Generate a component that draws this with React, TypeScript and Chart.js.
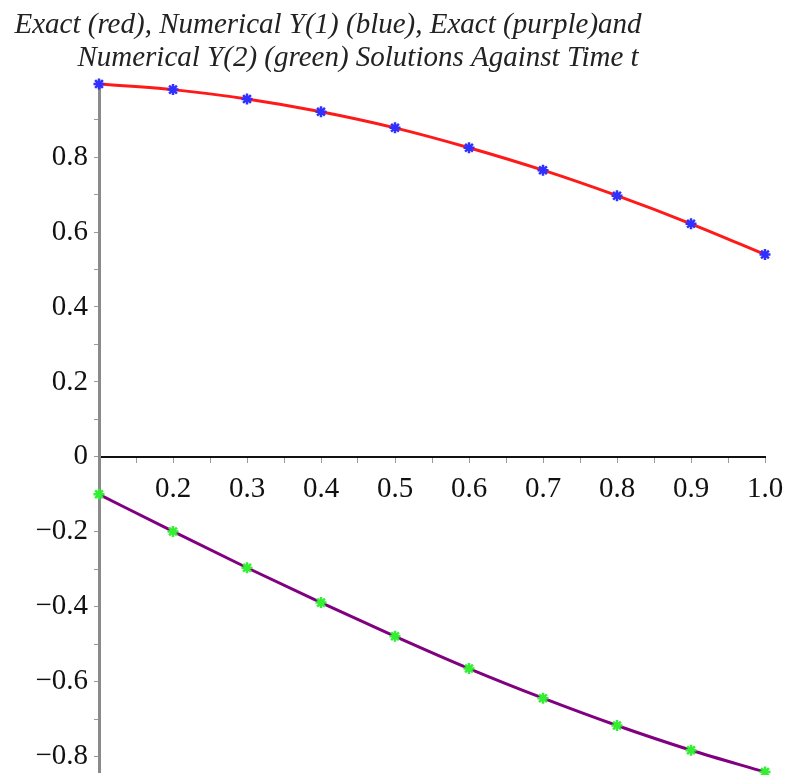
import React, { useEffect, useRef } from 'react';
import { Chart, registerables } from 'chart.js';

Chart.register(...registerables);

// ---- data ----
const tValues = [0.1, 0.2, 0.3, 0.4, 0.5, 0.6, 0.7, 0.8, 0.9, 1.0];
const exactY1 = [0.995, 0.98, 0.955, 0.921, 0.878, 0.825, 0.765, 0.697, 0.622, 0.54];
const numericalY1 = [0.995, 0.98, 0.955, 0.921, 0.878, 0.825, 0.765, 0.697, 0.622, 0.54];
const exactY2 = [-0.1, -0.199, -0.296, -0.389, -0.479, -0.565, -0.644, -0.717, -0.783, -0.841];
const numericalY2 = [-0.1, -0.199, -0.296, -0.389, -0.479, -0.565, -0.644, -0.717, -0.783, -0.841];

const xMajorTicks = [0.2, 0.3, 0.4, 0.5, 0.6, 0.7, 0.8, 0.9, 1.0];
const xMajorLabels = ['0.2', '0.3', '0.4', '0.5', '0.6', '0.7', '0.8', '0.9', '1.0'];
const xMinorTicks = [0.15, 0.25, 0.35, 0.45, 0.55, 0.65, 0.75, 0.85, 0.95];

const yMajorTicks = [-0.8, -0.6, -0.4, -0.2, 0, 0.2, 0.4, 0.6, 0.8];
const yMajorLabels = ['\u22120.8', '\u22120.6', '\u22120.4', '\u22120.2', '0', '0.2', '0.4', '0.6', '0.8'];
const yMinorTicks = [-0.7, -0.5, -0.3, -0.1, 0.1, 0.3, 0.5, 0.7, 0.9];

const titleLines = [
  'Exact (red), Numerical Y(1) (blue), Exact (purple)and',
  'Numerical Y(2) (green) Solutions Against Time t',
];

const X_MIN = 0.1;
const X_MAX = 1.0;
const Y_MIN = -0.841;
const Y_MAX = 0.995;

const PAD_TOP = 84;
const PAD_BOTTOM = 3;

const serif = '"Liberation Serif", "Times New Roman", serif';

function labelFor(value: number, ticks: number[], labels: string[]): string {
  for (let i = 0; i < ticks.length; i++) {
    if (Math.abs(ticks[i] - value) < 1e-6) return labels[i];
  }
  return '';
}

const pairs = (ys: number[]) => tValues.map((t, i) => ({ x: t, y: ys[i] }));

const zeroPadding = (scale: any) => {
  scale.paddingLeft = 0;
  scale.paddingRight = 0;
  scale.paddingTop = 0;
  scale.paddingBottom = 0;
};

// keep the vertical extent of the plot at the reference's position
const plotExtentPlugin = {
  id: 'plotExtent',
  afterLayout(chart: any) {
    const y = chart.scales.y;
    const top = PAD_TOP;
    const bottom = chart.height - PAD_BOTTOM;
    y.top = top;
    y.bottom = bottom;
    y.height = bottom - top;
    y.configure();
    chart.chartArea.top = top;
    chart.chartArea.bottom = bottom;
    chart.chartArea.height = bottom - top;
  },
};

const titlePlugin = {
  id: 'mapleTitle',
  afterDraw(chart: any) {
    const ctx = chart.ctx;
    ctx.save();
    ctx.font = 'italic 29px ' + serif;
    ctx.fillStyle = '#222222';
    ctx.textAlign = 'center';
    ctx.textBaseline = 'alphabetic';
    ctx.fillText(titleLines[0], 328, 33);
    ctx.fillText(titleLines[1], 358, 66);
    ctx.restore();
  },
};

export default function App() {
  const canvasRef = useRef<HTMLCanvasElement | null>(null);

  useEffect(() => {
    if (!canvasRef.current) return;
    const chart = new Chart(canvasRef.current, {
      type: 'line',
      data: {
        datasets: [
          {
            label: 'Numerical Y(1)',
            data: pairs(numericalY1),
            showLine: false,
            pointStyle: 'star',
            pointRadius: 5.5,
            pointBorderWidth: 2.5,
            pointBorderColor: '#3030ff',
            pointBackgroundColor: '#3030ff',
            borderColor: '#3030ff',
            order: 0,
            clip: false,
          },
          {
            label: 'Numerical Y(2)',
            data: pairs(numericalY2),
            showLine: false,
            pointStyle: 'star',
            pointRadius: 5.5,
            pointBorderWidth: 2.5,
            pointBorderColor: '#33ee33',
            pointBackgroundColor: '#33ee33',
            borderColor: '#33ee33',
            order: 0,
            clip: false,
          },
          {
            label: 'Exact Y(1)',
            data: pairs(exactY1),
            borderColor: '#ff1a1a',
            borderWidth: 3,
            pointRadius: 0,
            cubicInterpolationMode: 'monotone',
            order: 1,
            clip: false,
          },
          {
            label: 'Exact Y(2)',
            data: pairs(exactY2),
            borderColor: '#800080',
            borderWidth: 3,
            pointRadius: 0,
            cubicInterpolationMode: 'monotone',
            order: 1,
            clip: false,
          },
        ],
      },
      options: {
        animation: false,
        responsive: false,
        maintainAspectRatio: false,
        events: [],
        layout: { padding: { top: PAD_TOP, right: 21, bottom: PAD_BOTTOM, left: 0 } },
        plugins: {
          legend: { display: false },
          title: { display: false },
          tooltip: { enabled: false },
        },
        scales: {
          x: {
            type: 'linear',
            min: X_MIN,
            max: X_MAX,
            position: { y: 0 } as any,
            afterBuildTicks: (scale: any) => {
              scale.ticks = [...xMinorTicks, ...xMajorTicks]
                .sort((a, b) => a - b)
                .map((v) => ({ value: v }));
            },
            afterFit: (scale: any) => {
              zeroPadding(scale);
              scale.height = 0;
            },
            ticks: {
              autoSkip: false,
              maxRotation: 0,
              padding: 10,
              color: '#111111',
              font: { family: serif, size: 29 },
              callback: (value: any) => labelFor(Number(value), xMajorTicks, xMajorLabels),
            },
            grid: {
              drawOnChartArea: false,
              drawTicks: true,
              tickLength: 5,
              tickColor: '#9a9a9a',
              tickWidth: 1,
            },
            border: { display: true, color: '#111111', width: 2 },
          },
          y: {
            type: 'linear',
            min: Y_MIN,
            max: Y_MAX,
            position: 'left',
            afterFit: (scale: any) => {
              scale.width = 99;
              zeroPadding(scale);
            },
            afterBuildTicks: (scale: any) => {
              scale.ticks = [...yMinorTicks, ...yMajorTicks]
                .sort((a, b) => a - b)
                .map((v) => ({ value: v }));
            },
            ticks: {
              autoSkip: false,
              padding: 6,
              color: '#111111',
              font: { family: serif, size: 29 },
              callback: (value: any) => labelFor(Number(value), yMajorTicks, yMajorLabels),
            },
            grid: {
              drawOnChartArea: false,
              drawTicks: true,
              tickLength: 5,
              tickColor: '#9a9a9a',
              tickWidth: 1,
            },
            border: { display: true, color: '#8a8a8a', width: 3 },
          },
        },
      },
      plugins: [plotExtentPlugin, titlePlugin],
    } as any);
    return () => chart.destroy();
  }, []);

  return (
    <div style={{ position: 'absolute', left: 0, top: 0, width: 786, height: 775, background: '#ffffff' }}>
      <canvas ref={canvasRef} width={786} height={775} />
    </div>
  );
}
